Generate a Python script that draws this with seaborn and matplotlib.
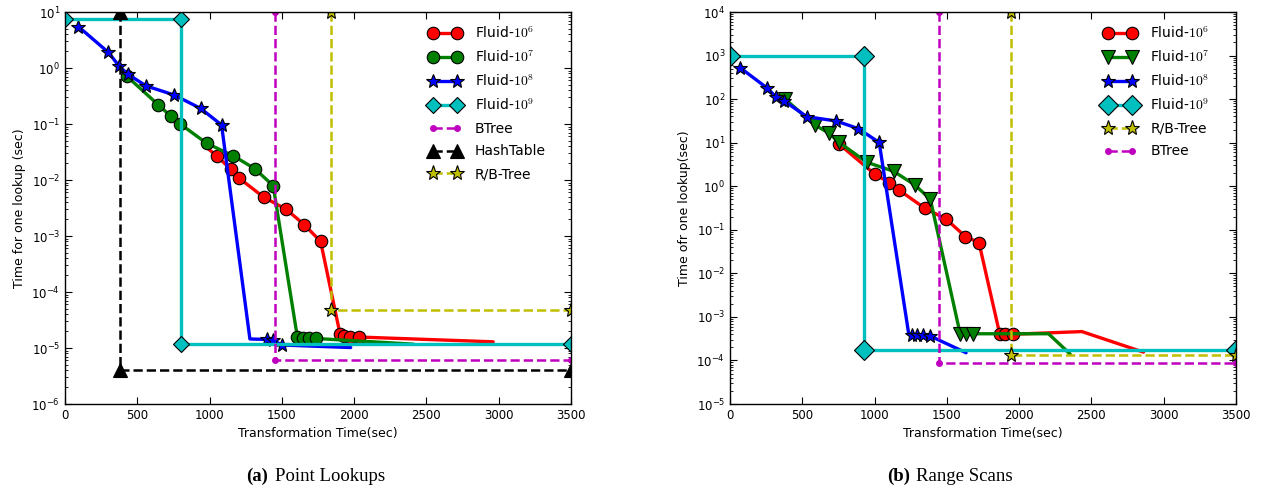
import matplotlib
matplotlib.use("Agg")
import matplotlib.pyplot as plt
import seaborn as sns
from matplotlib.ticker import LogLocator, NullFormatter

# ---------------- data: (a) Point Lookups ----------------
a_f6_x = [960, 1049, 1148, 1206, 1376, 1530, 1654, 1768, 1902, 1928, 1970, 2032, 2962]
a_f6_y = [0.042, 0.027, 0.0155, 0.0107, 0.0049, 0.0030, 0.0016, 0.00080, 1.8e-5, 1.66e-5, 1.55e-5, 1.57e-5, 1.29e-5]
a_f6_mk = list(range(1, 12))

a_f7_x = [426, 645, 733, 797, 981, 1165, 1314, 1440, 1607, 1648, 1690, 1734, 2410]
a_f7_y = [0.72, 0.22, 0.137, 0.10, 0.045, 0.027, 0.0158, 0.0079, 1.58e-5, 1.53e-5, 1.48e-5, 1.48e-5, 1.17e-5]
a_f7_mk = list(range(0, 12))

a_f8_x = [92, 300, 376, 433, 560, 754, 938, 1083, 1279, 1400, 1440, 1498, 1976]
a_f8_y = [5.5, 1.9, 1.07, 0.78, 0.48, 0.33, 0.19, 0.096, 1.45e-5, 1.42e-5, 1.38e-5, 1.13e-5, 1.02e-5]
a_f8_mk = [0, 1, 2, 3, 4, 5, 6, 7, 9, 10, 11]

a_f9_x = [0, 800, 800, 3500]
a_f9_y = [7.5, 7.5, 1.2e-5, 1.2e-5]

a_bt_x = [1455, 1455, 3500]
a_bt_y = [10, 6.2e-6, 6.2e-6]

a_ht_x = [380, 380, 3500]
a_ht_y = [10, 4.1e-6, 4.1e-6]

a_rb_x = [1838, 1838, 3500]
a_rb_y = [10, 4.7e-5, 4.7e-5]

# ---------------- data: (b) Range Scans ----------------
b_f6_x = [754, 1001, 1103, 1170, 1349, 1494, 1628, 1722, 1866, 1900, 1960, 2434, 2860]
b_f6_y = [9.3, 1.9, 1.2, 0.81, 0.31, 0.177, 0.070, 0.051, 4.0e-4, 4.0e-4, 4.0e-4, 4.6e-4, 1.55e-4]
b_f6_mk = list(range(0, 11))

b_f7_x = [381, 588, 685, 754, 946, 1132, 1280, 1386, 1592, 1633, 1684, 2203, 2353]
b_f7_y = [100, 25.5, 16.4, 10.2, 3.55, 2.2, 1.06, 0.5, 4.1e-4, 4.1e-4, 4.1e-4, 4.1e-4, 1.4e-4]
b_f7_mk = list(range(0, 11))

b_f8_x = [69, 258, 316, 374, 531, 734, 888, 1032, 1236, 1257, 1296, 1338, 1380, 1633]
b_f8_y = [530, 178, 114, 91, 39.5, 31.5, 21, 10.1, 4.1e-4, 3.8e-4, 3.8e-4, 3.8e-4, 3.7e-4, 1.5e-4]
b_f8_mk = [0, 1, 2, 3, 4, 5, 6, 7, 9, 10, 11, 12]

b_f9_x = [0, 930, 930, 3500]
b_f9_y = [1000, 1000, 1.7e-4, 1.7e-4]

b_rb_x = [1942, 1942, 3500]
b_rb_y = [1e4, 1.3e-4, 1.3e-4]

b_bt_x = [1446, 1446, 3500]
b_bt_y = [1e4, 8.8e-5, 8.8e-5]

x_ticks = [0, 500, 1000, 1500, 2000, 2500, 3000, 3500]

# ---------------- style ----------------
sns.set_style("ticks")
plt.rcParams.update({
    "font.family": ["DejaVu Sans"],
    "mathtext.fontset": "cm",
    "axes.edgecolor": "black",
    "axes.linewidth": 1.0,
    "text.color": "black",
    "axes.labelcolor": "black",
    "xtick.color": "black",
    "ytick.color": "black",
    "xtick.direction": "in",
    "ytick.direction": "in",
    "xtick.top": True,
    "ytick.right": True,
    "xtick.major.size": 5,
    "ytick.major.size": 5,
    "ytick.minor.size": 2.5,
    "xtick.major.width": 0.8,
    "ytick.major.width": 0.8,
    "ytick.minor.width": 0.6,
})

fig = plt.figure(figsize=(12.62, 4.94), dpi=100)
W, H = 1262, 494
axA = fig.add_axes([65 / W, 90 / H, 506 / W, 392 / H])
axB = fig.add_axes([730 / W, 90 / H, 506 / W, 392 / H])


def draw(ax, x, y, color, marker, ms, label, ls="-", lw=2.4, mk=None, mew=0.8):
    kw = {}
    if mk is not None:
        kw["markevery"] = mk
    sns.lineplot(x=x, y=y, ax=ax, sort=False, estimator=None, color=color,
                 marker=marker, markersize=ms, markerfacecolor=color,
                 markeredgecolor="black", markeredgewidth=mew,
                 linestyle=ls, linewidth=lw, label=label, legend=False, **kw)
    return ax.lines[-1]


# (a)
hA = []
hA.append(draw(axA, a_f6_x, a_f6_y, "#ff0000", "o", 9, "Fluid-$10^6$", mk=a_f6_mk))
hA.append(draw(axA, a_f7_x, a_f7_y, "#008000", "o", 9, "Fluid-$10^7$", mk=a_f7_mk))
hA.append(draw(axA, a_f8_x, a_f8_y, "#0000ff", "*", 10, "Fluid-$10^8$", mk=a_f8_mk))
hA.append(draw(axA, a_f9_x, a_f9_y, "#00bfbf", "D", 8, "Fluid-$10^9$"))
hA.append(draw(axA, a_bt_x, a_bt_y, "#bf00bf", "o", 5, "BTree", ls="--", lw=1.8, mew=0))
hA.append(draw(axA, a_ht_x, a_ht_y, "#000000", "^", 10, "HashTable", ls="--", lw=1.8))
hA.append(draw(axA, a_rb_x, a_rb_y, "#bfbf00", "*", 11, "R/B-Tree", ls="--", lw=1.8))

# (b)
hB = []
hB.append(draw(axB, b_f6_x, b_f6_y, "#ff0000", "o", 9, "Fluid-$10^6$", mk=b_f6_mk))
hB.append(draw(axB, b_f7_x, b_f7_y, "#008000", "v", 10, "Fluid-$10^7$", mk=b_f7_mk))
hB.append(draw(axB, b_f8_x, b_f8_y, "#0000ff", "*", 10, "Fluid-$10^8$", mk=b_f8_mk))
hB.append(draw(axB, b_f9_x, b_f9_y, "#00bfbf", "D", 10, "Fluid-$10^9$"))
hB.append(draw(axB, b_rb_x, b_rb_y, "#bfbf00", "*", 11, "R/B-Tree", ls="--", lw=1.8))
hB.append(draw(axB, b_bt_x, b_bt_y, "#bf00bf", "o", 5, "BTree", ls="--", lw=1.8, mew=0))

for ax, ylim, ylabel in [(axA, (1e-6, 10), "Time for one lookup (sec)"),
                         (axB, (1e-5, 1e4), "Time ofr one lookup(sec)")]:
    ax.set_yscale("log")
    ax.set_ylim(*ylim)
    ax.yaxis.set_major_locator(LogLocator(base=10, numticks=30))
    ax.yaxis.set_minor_locator(LogLocator(base=10, subs=range(2, 10), numticks=30))
    ax.yaxis.set_minor_formatter(NullFormatter())
    ax.set_xlim(0, 3500)
    ax.set_xticks(x_ticks)
    ax.set_xticklabels([str(t) for t in x_ticks])
    ax.tick_params(labelsize=8.5, which="both", top=True, right=True)
    ax.set_xlabel("Transformation Time(sec)", fontsize=9)
    ax.set_ylabel(ylabel, fontsize=9)
    for s in ax.spines.values():
        s.set_visible(True)
        s.set_color("black")

legkw = dict(loc="upper left", frameon=False, numpoints=2, fontsize=10,
             handlelength=2.33, handletextpad=1.0, labelspacing=0.62,
             borderpad=0, borderaxespad=0)
axA.legend(hA, [h.get_label() for h in hA], bbox_to_anchor=(0.719, 0.967), **legkw)
axB.legend(hB, [h.get_label() for h in hB], bbox_to_anchor=(0.739, 0.967), **legkw)

# captions
cy = 1 - 476 / H
fig.text(268 / W, cy, "(a)", ha="right", va="center", fontsize=13.5,
         fontweight="bold", family="Liberation Serif")
fig.text(275 / W, cy, "Point Lookups", ha="left", va="center", fontsize=13.5,
         family="Liberation Serif")
fig.text(910 / W, cy, "(b)", ha="right", va="center", fontsize=13.5,
         fontweight="bold", family="Liberation Serif")
fig.text(916 / W, cy, "Range Scans", ha="left", va="center", fontsize=13.5,
         family="Liberation Serif")

fig.savefig("out.png", dpi=100)
